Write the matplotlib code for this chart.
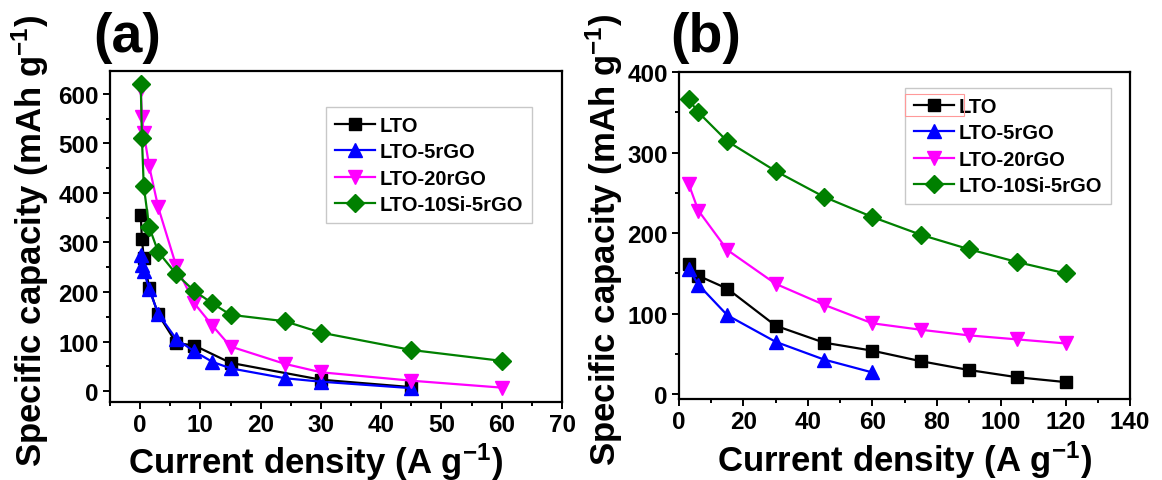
import matplotlib
matplotlib.use("Agg")
import matplotlib.pyplot as plt
from matplotlib.patches import Rectangle
from matplotlib.ticker import MultipleLocator

plt.rcParams['font.family'] = ['Liberation Sans', 'DejaVu Sans']
plt.rcParams['font.weight'] = 'bold'
plt.rcParams['axes.labelweight'] = 'bold'
plt.rcParams['mathtext.fontset'] = 'custom'
plt.rcParams['mathtext.rm'] = 'Liberation Sans:bold'
plt.rcParams['mathtext.it'] = 'Liberation Sans:bold'
plt.rcParams['mathtext.bf'] = 'Liberation Sans:bold'

# (a) rate capability, low to high current density
a_lto_x = [0.1, 0.3, 0.6, 1.5, 3, 6, 9, 15, 30, 45]
a_lto_y = [356, 306, 269, 208, 155, 97, 92, 57, 23, 8]
a_5rgo_x = [0.1, 0.3, 0.6, 1.5, 3, 6, 9, 12, 15, 24, 30, 45]
a_5rgo_y = [275, 255, 242, 206, 156, 105, 80, 59, 46, 26, 19, 6]
a_20rgo_x = [0.1, 0.3, 0.6, 1.5, 3, 6, 9, 12, 15, 24, 30, 45, 60]
a_20rgo_y = [610, 553, 521, 454, 371, 252, 177, 132, 90, 55, 38, 21, 7]
a_si_x = [0.1, 0.3, 0.6, 1.5, 3, 6, 9, 12, 15, 24, 30, 45, 60]
a_si_y = [620, 510, 414, 331, 281, 236, 202, 177, 154, 141, 118, 83, 61]

# (b) high rate range
b_lto_x = [3, 6, 15, 30, 45, 60, 75, 90, 105, 120]
b_lto_y = [162, 147, 131, 85, 64, 54, 41, 30, 21, 15]
b_5rgo_x = [3, 6, 15, 30, 45, 60]
b_5rgo_y = [156, 136, 98, 65, 43, 27]
b_20rgo_x = [3, 6, 15, 30, 45, 60, 75, 90, 105, 120]
b_20rgo_y = [261, 228, 179, 137, 111, 88, 80, 73, 68, 63]
b_si_x = [3, 6, 15, 30, 45, 60, 75, 90, 105, 120]
b_si_y = [366, 350, 314, 277, 245, 220, 198, 180, 164, 150]

labels = ["LTO", "LTO-5rGO", "LTO-20rGO", "LTO-10Si-5rGO"]
colors = ["black", "#0000ff", "#ff00ff", "#008000"]
markers = ["s", "^", "v", "D"]
sizes = [9, 10, 10, 9]

fig = plt.figure(figsize=(11.62, 4.81), dpi=100)
ax_a = fig.add_axes([110 / 1162, 78 / 481, 452 / 1162, 331 / 481])
ax_b = fig.add_axes([679 / 1162, 81 / 481, 451 / 1162, 327 / 481])

series_a = [(a_lto_x, a_lto_y), (a_5rgo_x, a_5rgo_y), (a_20rgo_x, a_20rgo_y), (a_si_x, a_si_y)]
series_b = [(b_lto_x, b_lto_y), (b_5rgo_x, b_5rgo_y), (b_20rgo_x, b_20rgo_y), (b_si_x, b_si_y)]

for ax, series in ((ax_a, series_a), (ax_b, series_b)):
    for (x, y), lab, c, m, ms in zip(series, labels, colors, markers, sizes):
        ax.plot(x, y, color=c, marker=m, markersize=ms, linewidth=1.6,
                markeredgecolor=c, label=lab)
    for side in ax.spines.values():
        side.set_linewidth(1.6)
    ax.tick_params(which='both', direction='out', top=False, right=False,
                   width=1.4, labelsize=17.5, pad=3)
    ax.tick_params(which='major', length=5)
    ax.tick_params(which='minor', length=3)
    ax.set_xlabel(r"Current density (A g$^{-1}$)", fontsize=25)
    ax.set_ylabel(r"Specific capacity (mAh g$^{-1}$)", fontsize=25, labelpad=0)
    leg = ax.legend(loc='upper right', prop={'size': 14.5, 'weight': 'bold'},
                    frameon=True, fancybox=False,
                    handlelength=2.0, handletextpad=0.2, labelspacing=0.36,
                    borderpad=0.45, borderaxespad=0)
    leg.get_frame().set_edgecolor('#bbbbbb')
    leg.get_frame().set_linewidth(1.0)

for ax in (ax_a, ax_b):
    for lbl in ax.get_xticklabels() + ax.get_yticklabels():
        lbl.set_fontweight('bold')

ax_a.set_xlim(-5, 70)
ax_a.set_ylim(-22, 646)
ax_a.xaxis.set_major_locator(MultipleLocator(10))
ax_a.xaxis.set_minor_locator(MultipleLocator(5))
ax_a.yaxis.set_major_locator(MultipleLocator(100))
ax_a.yaxis.set_minor_locator(MultipleLocator(50))
ax_a.legend_.set_bbox_to_anchor((532 / 1162, 1 - 108 / 481), transform=fig.transFigure)
ax_a.xaxis.set_label_coords(0.455, -0.115)
ax_a.yaxis.set_label_coords(-0.13, 0.49)

ax_b.set_xlim(0, 140)
ax_b.set_ylim(-6, 400)
ax_b.xaxis.set_major_locator(MultipleLocator(20))
ax_b.xaxis.set_minor_locator(MultipleLocator(10))
ax_b.yaxis.set_major_locator(MultipleLocator(100))
ax_b.yaxis.set_minor_locator(MultipleLocator(50))
ax_b.legend_.set_bbox_to_anchor((1111 / 1162, 1 - 89 / 481), transform=fig.transFigure)
ax_b.xaxis.set_label_coords(0.5, -0.12)
ax_b.yaxis.set_label_coords(-0.12, 0.49)

fig.text(93 / 1162, 1 - 12 / 481, "(a)", fontsize=40, fontweight='bold', va='top')
fig.text(670 / 1162, 1 - 12 / 481, "(b)", fontsize=40, fontweight='bold', va='top')

# thin red box around the first handle of legend (b)
fig.canvas.draw()
h = ax_b.legend_.legend_handles[0]
bb = h.get_window_extent(fig.canvas.get_renderer())
fig.add_artist(Rectangle((bb.x0 - 3, bb.y0 - 5), bb.width + 6, bb.height + 10,
                         transform=None, fill=False, edgecolor='#ff9999',
                         linewidth=0.8, zorder=10))

fig.savefig("out.png", dpi=100)
